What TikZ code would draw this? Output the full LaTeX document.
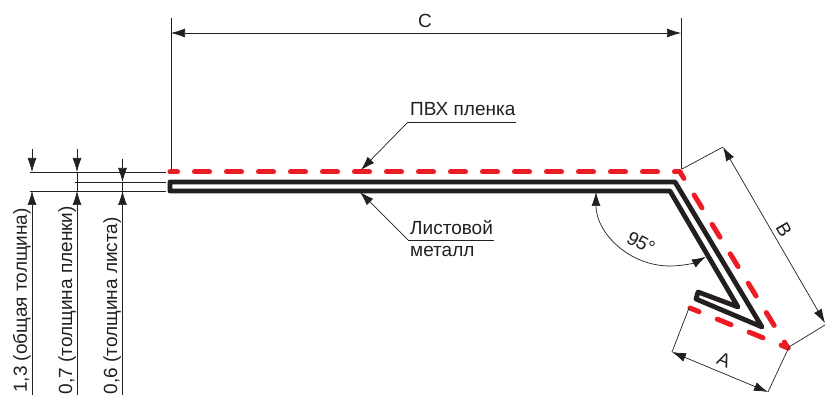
\documentclass[tikz,border=0pt]{standalone}
\usepackage{fontspec}
\setmainfont{Liberation Sans}
\usetikzlibrary{arrows.meta}
\definecolor{ink}{HTML}{231F20}
\definecolor{film}{HTML}{ED1C24}
\tikzset{
  x=1pt,y=-1pt,
  thin line/.style={draw=ink,line width=0.7pt},
  dimension/.style={thin line,{Latex[length=14pt,width=9pt]}-{Latex[length=14pt,width=9pt]}},
  tip end/.style={thin line,-{Latex[length=14pt,width=9pt]}},
  label text/.style={text=ink,font=\fontsize{19}{21}\selectfont,inner sep=0pt},
  metal/.style={draw=ink,line width=4.8pt,line join=round,line cap=round},
  pvc/.style={draw=film,line width=5pt,line cap=round},
  pvc long/.style={pvc,dash pattern=on 15pt off 17pt,dash phase=7.5pt},
  pvc slant/.style={pvc,dash pattern=on 15pt off 19.5pt,dash phase=7.5pt},
}
\begin{document}
\begin{tikzpicture}
\useasboundingbox (0,0) rectangle (825,395);
% profile
\coordinate (mA) at (170,182); \coordinate (mB) at (675,182); \coordinate (mC) at (762,327);
\coordinate (mD) at (696,299); \coordinate (mE) at (698,292); \coordinate (mF) at (738,307);
\coordinate (mG) at (670,191); \coordinate (mH) at (170,191);
\draw[metal] (mA) -- (mB) -- (mC) -- (mD) -- (mE) -- (mF) -- (mG) -- (mH) -- cycle;
\coordinate (fA) at (170,172); \coordinate (fB) at (680,172); \coordinate (fC) at (788,348); \coordinate (fD) at (690,308);
\draw[pvc long] (fA) -- (fB);
\draw[pvc slant] (fB) -- (fC);
\draw[pvc slant] (fC) -- (fD);
% dimension C
\coordinate (cL) at (171,33); \coordinate (cR) at (681,33);
\coordinate (cLt) at (171,18); \coordinate (cRt) at (681,18);
\coordinate (cLb) at (171,170); \coordinate (cRb) at (681,169);
\draw[thin line] (cLt) -- (cLb); \draw[thin line] (cRt) -- (cRb);
\draw[dimension] (cL) -- (cR);
\node[label text] (labC) at (425,21) {C};
% dimension B
\coordinate (bA) at (723,147); \coordinate (bB) at (825,323);
\coordinate (bC) at (682,169); \coordinate (bD) at (789,347);
\coordinate (bE) at (825,325);
\draw[thin line] (bC) -- (bA); \draw[thin line] (bD) -- (bE);
\draw[dimension] (bA) -- (bB);
\node[label text,rotate=-60] (labB) at (784,230) {B};
% dimension A
\coordinate (aA) at (672,352); \coordinate (aB) at (768,392);
\coordinate (aC) at (689,308);
\draw[thin line] (aC) -- (aA); \draw[thin line] (bD) -- (aB);
\draw[dimension] (aA) -- (aB);
\node[label text,rotate=-23] (labA) at (724,360) {A};
% angle
\coordinate (angS) at (596,192);
\draw[dimension] (angS) arc[start angle=180,end angle=61,radius=74];
\node[label text,rotate=-28] (labAng) at (641,243) {95°};
% leaders
\coordinate (pU1) at (516,122); \coordinate (pU2) at (408,122); \coordinate (pT) at (361,170);
\draw[thin line] (pU1) -- (pU2);
\draw[tip end] (pU2) -- (pT);
\node[label text,anchor=base west] (labP) at (410,116) {ПВХ пленка};
\coordinate (lU1) at (494,240); \coordinate (lU2) at (408,240); \coordinate (lT) at (360,192);
\draw[thin line] (lU1) -- (lU2);
\draw[tip end] (lU2) -- (lT);
\node[label text,anchor=base west] (labL1) at (410,235) {Листовой};
\node[label text,anchor=base west] (labL2) at (410,257) {металл};
% thickness dims
\coordinate (h1a) at (30,172); \coordinate (h1b) at (166,172);
\coordinate (h2a) at (75,182); \coordinate (h2b) at (166,182);
\coordinate (h3a) at (30,191); \coordinate (h3b) at (166,191);
\draw[thin line] (h1a) -- (h1b); \draw[thin line] (h2a) -- (h2b); \draw[thin line] (h3a) -- (h3b);
\coordinate (v1t) at (32,149); \coordinate (v1a) at (32,172); \coordinate (v1b) at (32,191); \coordinate (v1e) at (32,395);
\coordinate (v2t) at (77,149); \coordinate (v2a) at (77,172); \coordinate (v2b) at (77,191); \coordinate (v2e) at (77,395);
\coordinate (v3t) at (122.5,159); \coordinate (v3a) at (122.5,182); \coordinate (v3b) at (122.5,191); \coordinate (v3e) at (122.5,395);
\draw[tip end] (v1t) -- (v1a); \draw[tip end] (v1e) -- (v1b);
\draw[tip end] (v2t) -- (v2a); \draw[tip end] (v2e) -- (v2b); \draw[thin line] (v2a) -- (v2b);
\draw[tip end] (v3t) -- (v3a); \draw[tip end] (v3e) -- (v3b); \draw[thin line] (v3a) -- (v3b);
\node[label text,rotate=90,anchor=base east] (t1) at (27,208) {1,3 (общая толщина)};
\node[label text,rotate=90,anchor=base east] (t2) at (72,206) {0,7 (толщина пленки)};
\node[label text,rotate=90,anchor=base east] (t3) at (117,217) {0,6 (толщина листа)};
\end{tikzpicture}
\end{document}
